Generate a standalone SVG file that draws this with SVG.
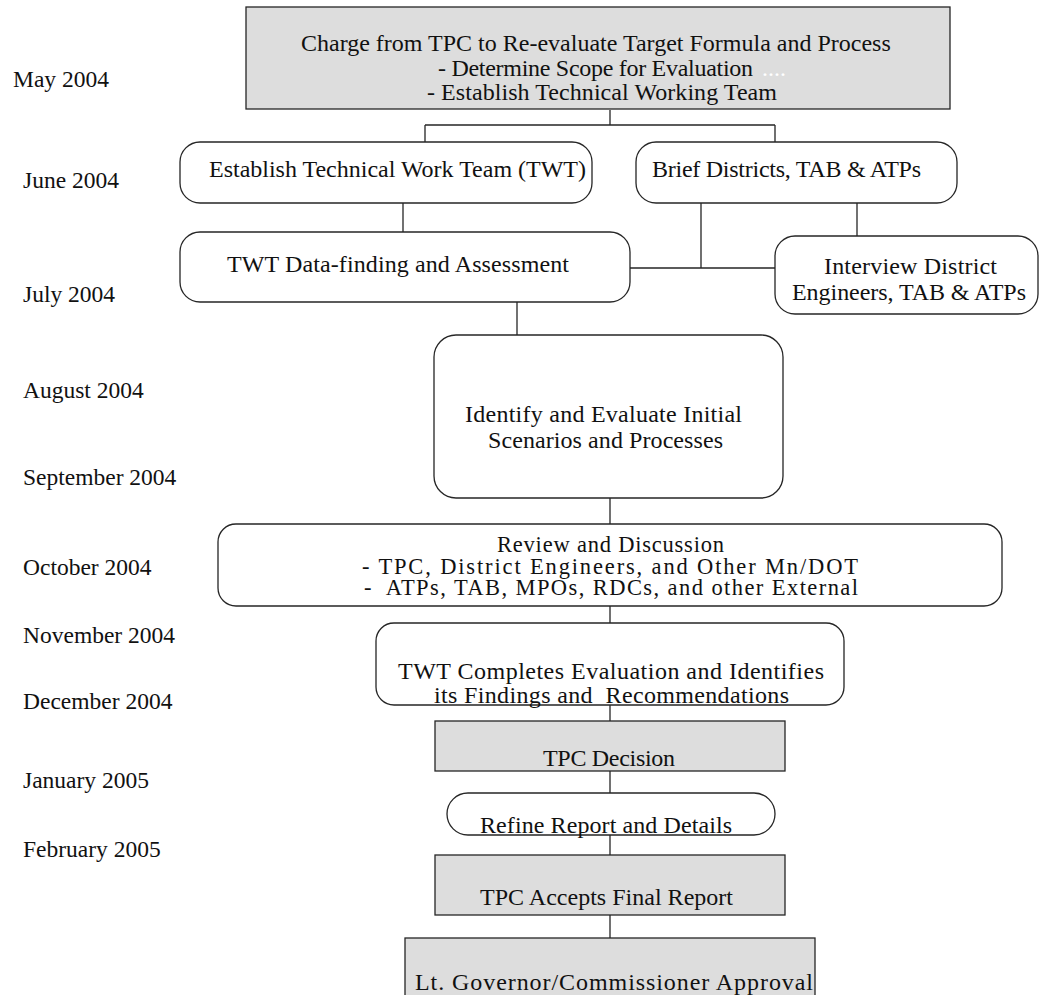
<svg xmlns="http://www.w3.org/2000/svg" width="1041" height="995" viewBox="0 0 1041 995">
  <style>
    .box { fill: #ffffff; stroke: #262626; stroke-width: 1.3; }
    .grey { fill: #dddddd; stroke: #262626; stroke-width: 1.3; }
    .txt { font-family: "Liberation Serif", "Times New Roman", serif; font-size: 24px; fill: #111111; }
    .tight { font-size: 22.5px; }
    .date { font-family: "Liberation Serif", "Times New Roman", serif; font-size: 23.5px; fill: #111111; }
    .link { stroke: #262626; stroke-width: 1.3; fill: none; }
  </style>

  <!-- timeline labels -->
  <g id="dates">
    <text class="date" x="13" y="87">May 2004</text>
    <text class="date" x="23" y="188">June 2004</text>
    <text class="date" x="23" y="302">July 2004</text>
    <text class="date" x="23" y="398">August 2004</text>
    <text class="date" x="23" y="485">September 2004</text>
    <text class="date" x="23" y="575">October 2004</text>
    <text class="date" x="23" y="643">November 2004</text>
    <text class="date" x="23" y="709">December 2004</text>
    <text class="date" x="23" y="788">January 2005</text>
    <text class="date" x="23" y="857">February 2005</text>
  </g>

  <!-- connectors -->
  <g id="connectors">
    <path class="link" d="M610,110 V125 M425,125 H775 M425,125 V142 M775,125 V142"/>
    <path class="link" d="M403,203 V232"/>
    <path class="link" d="M701,203 V268 M630,268 H775"/>
    <path class="link" d="M857,203 V236"/>
    <path class="link" d="M517,302 V335"/>
    <path class="link" d="M610,498 V524"/>
    <path class="link" d="M610,606 V623"/>
    <path class="link" d="M610,705 V721"/>
    <path class="link" d="M610,771 V793"/>
    <path class="link" d="M610,835 V855"/>
    <path class="link" d="M610,915 V938"/>
  </g>

  <g id="charge">
    <rect class="grey" x="246" y="7" width="704" height="102"/>
    <text class="txt" x="301" y="51">Charge from TPC to Re-evaluate Target Formula and Process</text>
    <text class="txt" x="438" y="76" textLength="315">- Determine Scope for Evaluation</text>
    <text class="txt" x="762" y="76" style="fill:#ffffff">....</text>
    <text class="txt" x="427" y="100" textLength="350">- Establish Technical Working Team</text>
  </g>

  <g id="establish-twt">
    <rect class="box" x="180" y="142" width="412" height="61" rx="20"/>
    <text class="txt" x="209" y="177" textLength="377">Establish Technical Work Team (TWT)</text>
  </g>

  <g id="brief">
    <rect class="box" x="636" y="142" width="321" height="61" rx="20"/>
    <text class="txt" x="652" y="177" textLength="269">Brief Districts, TAB &amp; ATPs</text>
  </g>

  <g id="data-finding">
    <rect class="box" x="180" y="232" width="450" height="70" rx="20"/>
    <text class="txt" x="227" y="272" textLength="342">TWT Data-finding and Assessment</text>
  </g>

  <g id="interview">
    <rect class="box" x="775" y="236" width="263" height="78" rx="20"/>
    <text class="txt" x="824" y="274" textLength="173">Interview District</text>
    <text class="txt" x="792" y="300" textLength="234">Engineers, TAB &amp; ATPs</text>
  </g>

  <g id="identify">
    <rect class="box" x="434" y="335" width="349" height="163" rx="22"/>
    <text class="txt" x="465" y="422" textLength="277">Identify and Evaluate Initial</text>
    <text class="txt" x="488" y="448" textLength="235">Scenarios and Processes</text>
  </g>

  <g id="review">
    <rect class="box" x="218" y="524" width="784" height="82" rx="18"/>
    <text class="txt tight" x="497" y="552" textLength="227">Review and Discussion</text>
    <text class="txt tight" x="362" y="574" textLength="496">- TPC, District Engineers, and Other Mn/DOT</text>
    <text class="txt tight" x="364" y="595" textLength="494" xml:space="preserve">-  ATPs, TAB, MPOs, RDCs, and other External</text>
  </g>

  <g id="completes">
    <rect class="box" x="376" y="623" width="468" height="82" rx="18"/>
    <text class="txt" x="398" y="679" textLength="426">TWT Completes Evaluation and Identifies</text>
    <text class="txt" x="434" y="703" textLength="355" xml:space="preserve">its Findings and  Recommendations</text>
  </g>

  <g id="decision">
    <rect class="grey" x="435" y="721" width="350" height="50"/>
    <text class="txt" x="543" y="766" textLength="132">TPC Decision</text>
  </g>

  <g id="refine">
    <rect class="box" x="447" y="793" width="328" height="42" rx="21"/>
    <text class="txt" x="480" y="833" textLength="252">Refine Report and Details</text>
  </g>

  <g id="accepts">
    <rect class="grey" x="435" y="855" width="350" height="60"/>
    <text class="txt" x="480" y="905" textLength="253">TPC Accepts Final Report</text>
  </g>

  <g id="approval">
    <rect class="grey" x="405" y="938" width="410" height="70"/>
    <text class="txt" x="415" y="990" textLength="398">Lt. Governor/Commissioner Approval</text>
  </g>
</svg>
